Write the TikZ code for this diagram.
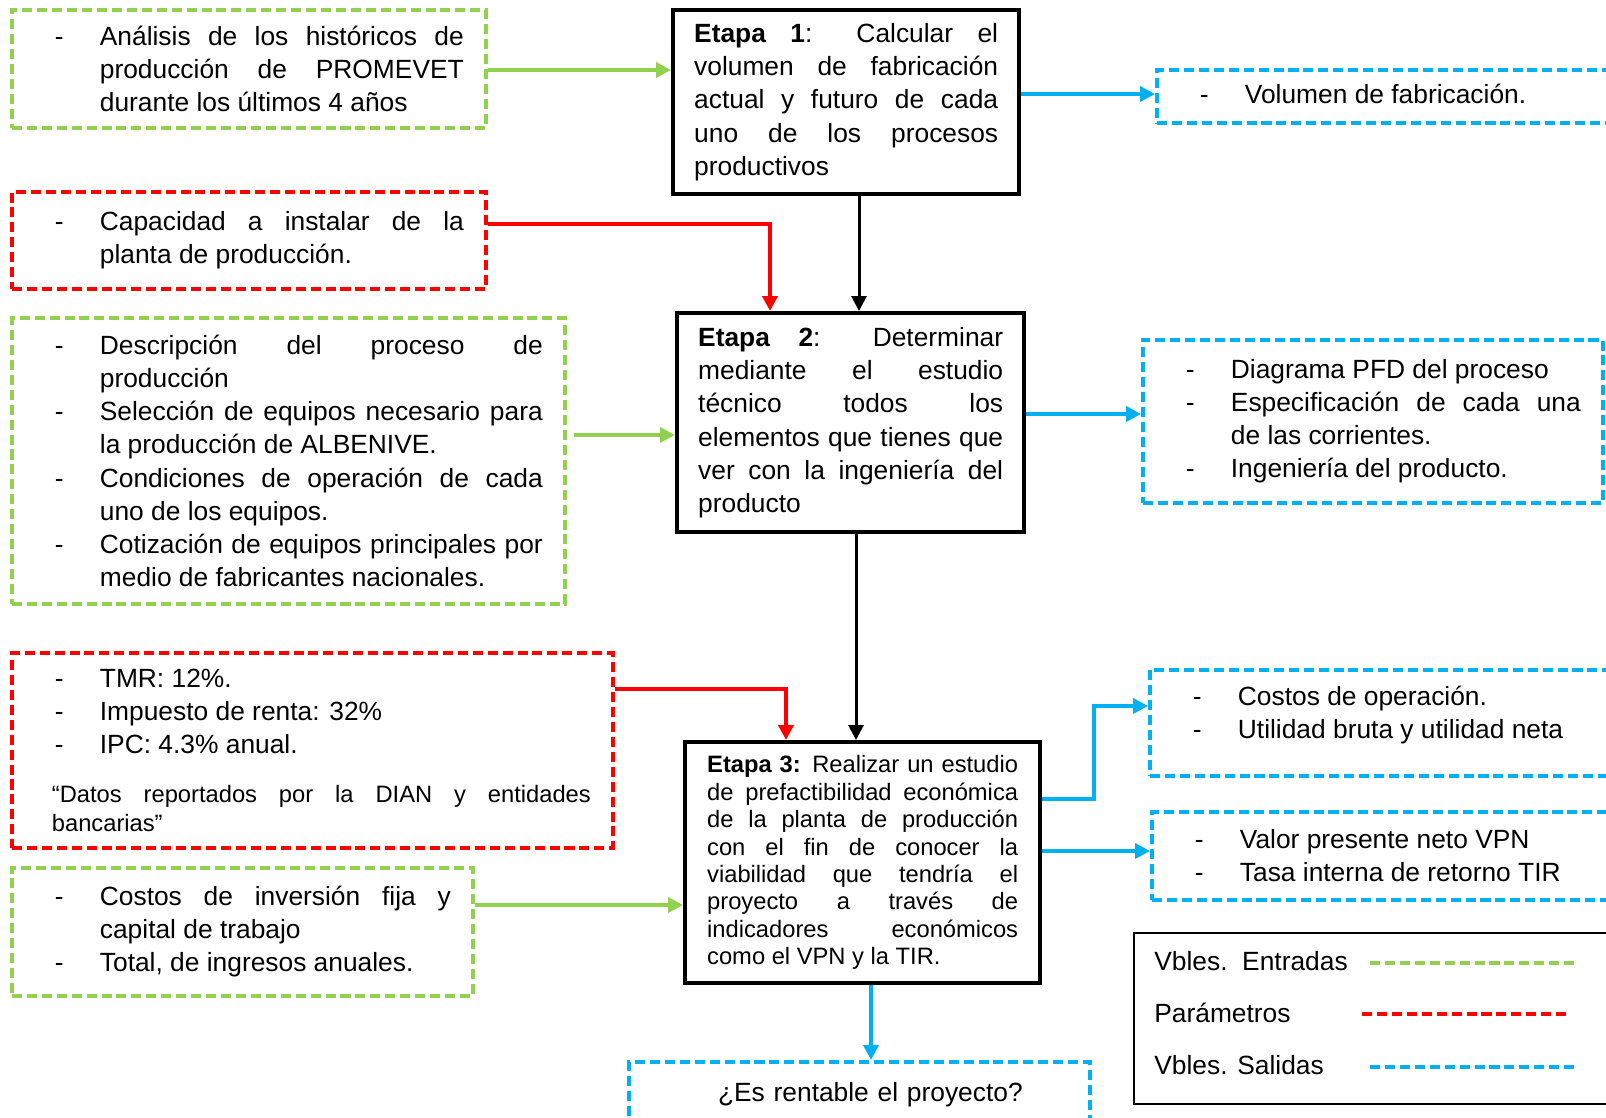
\documentclass[tikz,border=0pt]{standalone}
\usepackage{fontspec}
\setmainfont{Liberation Sans}
\usepackage{tikz}
\usetikzlibrary{arrows.meta}
\definecolor{verdeE}{HTML}{92D050}
\definecolor{rojoP}{HTML}{FF0000}
\definecolor{azulS}{HTML}{00B0F0}
\newlength{\sangria}\setlength{\sangria}{1.32cm}
\newcommand{\guion}[1]{\noindent\hangindent=\sangria\hangafter=1\makebox[\sangria][l]{\hspace{0.42cm}-}#1\par}
\hyphenpenalty=10000
\tikzstyle{etapa} = [draw,line width=2.5pt,anchor=north west,inner xsep=0.42cm,inner ysep=0pt,align=justify]
\tikzstyle{caja} = [line width=2.2pt,dash pattern=on 5.7pt off 2.8pt,anchor=north west,inner xsep=0.44cm,inner ysep=0pt,align=justify]
\tikzstyle{entrada} = [caja,draw=verdeE]
\tikzstyle{parametro} = [caja,draw=rojoP]
\tikzstyle{salida} = [caja,draw=azulS]
\tikzstyle{flecha} = [line width=2.2pt,-{Triangle[length=0.3cm,width=0.3cm]}]
\tikzstyle{muestra} = [line width=2.2pt,dash pattern=on 5.7pt off 2.8pt]

\begin{document}
\begin{tikzpicture}[x=0.02cm,y=-0.02cm,font=\fontsize{15}{18.8}\selectfont]
   	\useasboundingbox (0,0) rectangle (1606,1117);
   	\clip (0,0) rectangle (1606,1117);
   	\node[etapa,text width=6.08cm,minimum height=3.68cm](et_1) at (671,8) {\textbf{Etapa 1}: Calcular el\linebreak volumen de fabricación\linebreak actual y futuro de cada\linebreak uno de los procesos\linebreak productivos};
   	\node[etapa,text width=6.1cm,minimum height=4.38cm](et_2) at (675,311) {\textbf{Etapa 2}: Determinar\linebreak mediante el estudio\linebreak técnico todos los\linebreak elementos que tienes que\linebreak ver con la ingeniería del\linebreak producto};
   	\node[etapa,inner xsep=0.44cm,text width=6.22cm,minimum height=4.82cm,font=\fontsize{13.5}{15.6}\selectfont](et_3) at (683,740) {\textbf{Etapa 3:} Realizar un estudio\linebreak de prefactibilidad económica\linebreak de la planta de producción\linebreak con el fin de conocer la\linebreak viabilidad que tendría el\linebreak proyecto a través de\linebreak indicadores económicos\linebreak como el VPN y la TIR.};
   	\node[entrada,text width=8.6cm,minimum height=2.36cm](ent_1) at (10,8) {\guion{Análisis de los históricos de\linebreak producción de PROMEVET\linebreak durante los últimos 4 años}};
   	\node[parametro,text width=8.6cm,minimum height=1.94cm](par_1) at (10,190) {\guion{Capacidad a instalar de la\linebreak planta de producción.}};
   	\node[entrada,text width=10.18cm,minimum height=5.72cm](ent_2) at (10,316) {\guion{Descripción del proceso de\linebreak producción}\guion{Selección de equipos necesario para\linebreak la producción de ALBENIVE.}\guion{Condiciones de operación de cada\linebreak uno de los equipos.}\guion{Cotización de equipos principales por\linebreak medio de fabricantes nacionales.}};
   	\node[parametro,text width=11.14cm,minimum height=3.9cm](par_2) at (10,651) {\guion{TMR: 12\%.}\guion{Impuesto de renta: 32\%}\guion{IPC: 4.3\% anual.}\vspace{0.4cm}{\fontsize{13.5}{16.3}\selectfont\leftskip=0.36cm\noindent “Datos reportados por la DIAN y entidades\linebreak bancarias”\par}};
   	\node[entrada,text width=8.34cm,minimum height=2.56cm](ent_3) at (10,866) {\guion{Costos de inversión fija y\linebreak capital de trabajo}\guion{Total, de ingresos anuales.}};
   	\node[salida,text width=8.52cm,minimum height=1.06cm](sal_1) at (1155,68) {\guion{Volumen de fabricación.}\kern0.12cm};
   	\node[salida,text width=8.32cm,minimum height=3.26cm](sal_2) at (1141,338) {\guion{Diagrama PFD del proceso}\guion{Especificación de cada una\linebreak de las corrientes.}\guion{Ingeniería del producto.}};
   	\node[salida,text width=8.66cm,minimum height=2.12cm](sal_3) at (1148,668) {\guion{Costos de operación.}\guion{Utilidad bruta y utilidad neta}\kern0.33cm};
   	\node[salida,text width=8.62cm,minimum height=1.76cm](sal_4) at (1150,810) {\guion{Valor presente neto VPN}\guion{Tasa interna de retorno TIR}};
   	\node[salida,text width=8.34cm,minimum height=1.3cm,align=center](sal_5) at (627,1060) {\hspace*{0.44cm}¿Es rentable el proyecto?};
   	\node[draw,line width=1.2pt,anchor=north west,minimum width=9.84cm,minimum height=3.42cm](ley) at (1133,932) {};
   	\node[anchor=base west,inner sep=0pt](ley_e) at (1154,970) {Vbles.\ \ Entradas};
   	\node[anchor=base west,inner sep=0pt](ley_p) at (1154,1022) {Parámetros};
   	\node[anchor=base west,inner sep=0pt](ley_s) at (1154,1074) {Vbles. Salidas};
   	\draw[muestra,verdeE] (1370,963) -- (1574,963);
   	\draw[muestra,rojoP] (1362,1014) -- (1570,1014);
   	\draw[muestra,azulS] (1370,1067) -- (1579,1067);
   	\coordinate (codo) at (1094,706);
    \draw[flecha,verdeE] (ent_1.east |- 0,70) -- (et_1.west |- 0,70);
    \draw[flecha,verdeE,shorten <=0.14cm] (ent_2.east |- 0,435) -- (et_2.west |- 0,435);
    \draw[flecha,verdeE] (ent_3.east |- 0,905) -- (et_3.west |- 0,905);
    \draw[flecha,rojoP] (par_1.east |- 0,224) -| (et_2.north -| 770,0);
    \draw[flecha,rojoP] (par_2.east |- 0,689) -| (et_3.north -| 786,0);
    \draw[flecha,line width=1.7pt] (et_1.south -| 859,0) -- (et_2.north -| 859,0);
    \draw[flecha,line width=1.7pt] (et_2.south -| 856,0) -- (et_3.north -| 856,0);
    \draw[flecha,azulS] (et_1.east |- 0,94) -- (sal_1.west |- 0,94);
    \draw[flecha,azulS] (et_2.east |- 0,414) -- (sal_2.west |- 0,414);
    \draw[flecha,azulS] (et_3.east |- 0,799) -| (codo) -- (sal_3.west |- codo);
    \draw[flecha,azulS] (et_3.east |- 0,851) -- (sal_4.west |- 0,851);
    \draw[flecha,azulS] (et_3.south -| 871,0) -- (sal_5.north -| 871,0);
\end{tikzpicture}
\end{document}
